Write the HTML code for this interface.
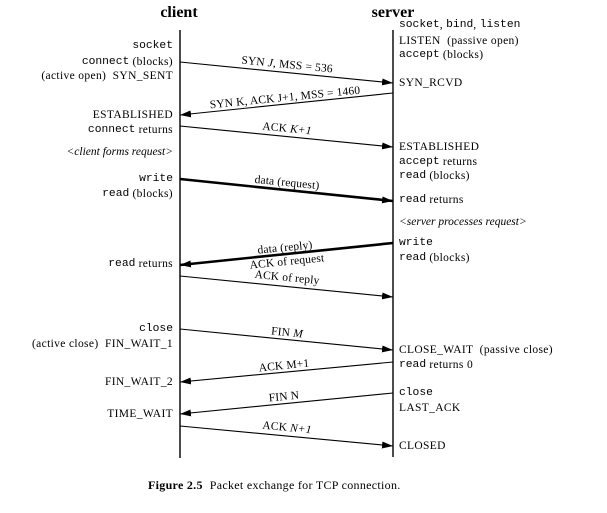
<!DOCTYPE html>
<html><head><meta charset="utf-8"><style>
html,body{margin:0;padding:0;background:#fff;}
svg{display:block;}
text{font-family:"Liberation Serif",serif;font-size:11.5px;fill:#000;}
.s{letter-spacing:0.35px;}
.m{font-family:"Liberation Mono",monospace;font-size:11.3px;letter-spacing:0;}
.i{font-style:italic;}
.it{font-style:italic;letter-spacing:0;}
</style></head><body>
<svg width="607" height="513" viewBox="0 0 607 513" xmlns="http://www.w3.org/2000/svg">
<defs>
<marker id="a" viewBox="0 0 11 7" refX="11" refY="3.5" markerWidth="11" markerHeight="7" markerUnits="userSpaceOnUse" orient="auto"><path d="M0,0 L11,3.5 L0,7 z" fill="#000"/></marker>
</defs>
<text x="179" y="17" text-anchor="middle" style="font-weight:bold;font-size:16px">client</text>
<text x="393" y="17" text-anchor="middle" style="font-weight:bold;font-size:16px">server</text>
<line x1="180" y1="30" x2="180" y2="458" stroke="#000" stroke-width="1.4"/>
<line x1="393" y1="30" x2="393" y2="457" stroke="#000" stroke-width="1.4"/>

<g stroke="#000" stroke-width="1.1" fill="none">
<line x1="180" y1="62" x2="393" y2="83" marker-end="url(#a)"/>
<line x1="393" y1="93" x2="180" y2="115" marker-end="url(#a)"/>
<line x1="180" y1="126" x2="393" y2="147" marker-end="url(#a)"/>
<line x1="180" y1="179" x2="393" y2="201" marker-end="url(#a)" stroke-width="2.6"/>
<line x1="393" y1="243" x2="180" y2="265" marker-end="url(#a)" stroke-width="2.6"/>
<line x1="180" y1="276" x2="393" y2="297" marker-end="url(#a)"/>
<line x1="180" y1="329" x2="393" y2="350" marker-end="url(#a)"/>
<line x1="393" y1="362" x2="180" y2="382" marker-end="url(#a)"/>
<line x1="393" y1="393" x2="180" y2="414" marker-end="url(#a)"/>
<line x1="180" y1="426" x2="393" y2="446" marker-end="url(#a)"/>
</g>

<!-- arrow labels -->
<g text-anchor="middle" dominant-baseline="central" style="letter-spacing:0.15px">
<text x="287" y="65" transform="rotate(5.6 287 65)">SYN <tspan class="i">J</tspan>, MSS = 536</text>
<text x="285" y="98" transform="rotate(-5.6 285 98)">SYN K, ACK J+1, MSS = 1460</text>
<text x="287" y="129" transform="rotate(5.6 287 129)">ACK <tspan class="i">K+1</tspan></text>
<text x="287" y="183" transform="rotate(5.6 287 183)">data (request)</text>
<text x="285" y="248" transform="rotate(-5.6 285 248)">data (reply)</text>
<text x="287" y="262" transform="rotate(-5.6 287 262)">ACK of request</text>
<text x="287" y="278" transform="rotate(5.6 287 278)">ACK of reply</text>
<text x="287" y="333" transform="rotate(5.6 287 333)">FIN <tspan class="i">M</tspan></text>
<text x="284" y="366" transform="rotate(-5.6 284 366)">ACK M+1</text>
<text x="284" y="397" transform="rotate(-5.6 284 397)">FIN N</text>
<text x="287" y="428" transform="rotate(5.6 287 428)">ACK <tspan class="i">N+1</tspan></text>
</g>

<!-- client labels -->
<g text-anchor="end" dominant-baseline="central" class="s">
<text x="173" y="46"><tspan class="m">socket</tspan></text>
<text x="173" y="62"><tspan class="m">connect</tspan> (blocks)</text>
<text x="173" y="76" xml:space="preserve">(active open)  SYN_SENT</text>
<text x="173" y="115">ESTABLISHED</text>
<text x="173" y="130"><tspan class="m">connect</tspan> returns</text>
<text x="173" y="152" class="it">&lt;client forms request&gt;</text>
<text x="173" y="179"><tspan class="m">write</tspan></text>
<text x="173" y="194"><tspan class="m">read</tspan> (blocks)</text>
<text x="173" y="264"><tspan class="m">read</tspan> returns</text>
<text x="173" y="329"><tspan class="m">close</tspan></text>
<text x="173" y="344" xml:space="preserve">(active close)  FIN_WAIT_1</text>
<text x="173" y="382">FIN_WAIT_2</text>
<text x="173" y="414">TIME_WAIT</text>
</g>

<!-- server labels -->
<g dominant-baseline="central" class="s">
<text x="399" y="25"><tspan class="m">socket</tspan>, <tspan class="m">bind</tspan>, <tspan class="m">listen</tspan></text>
<text x="399" y="41" xml:space="preserve">LISTEN  (passive open)</text>
<text x="399" y="55"><tspan class="m">accept</tspan> (blocks)</text>
<text x="399" y="83">SYN_RCVD</text>
<text x="399" y="147">ESTABLISHED</text>
<text x="399" y="162"><tspan class="m">accept</tspan> returns</text>
<text x="399" y="176"><tspan class="m">read</tspan> (blocks)</text>
<text x="399" y="200"><tspan class="m">read</tspan> returns</text>
<text x="399" y="222" class="it">&lt;server processes request&gt;</text>
<text x="399" y="243"><tspan class="m">write</tspan></text>
<text x="399" y="258"><tspan class="m">read</tspan> (blocks)</text>
<text x="399" y="350" xml:space="preserve">CLOSE_WAIT  (passive close)</text>
<text x="399" y="365"><tspan class="m">read</tspan> returns 0</text>
<text x="399" y="393"><tspan class="m">close</tspan></text>
<text x="399" y="408">LAST_ACK</text>
<text x="399" y="446">CLOSED</text>
</g>

<text x="148" y="489" style="font-size:12px;letter-spacing:0.3px"><tspan style="font-weight:bold">Figure 2.5</tspan><tspan dx="7">Packet exchange for TCP connection.</tspan></text>
</svg>
</body></html>
